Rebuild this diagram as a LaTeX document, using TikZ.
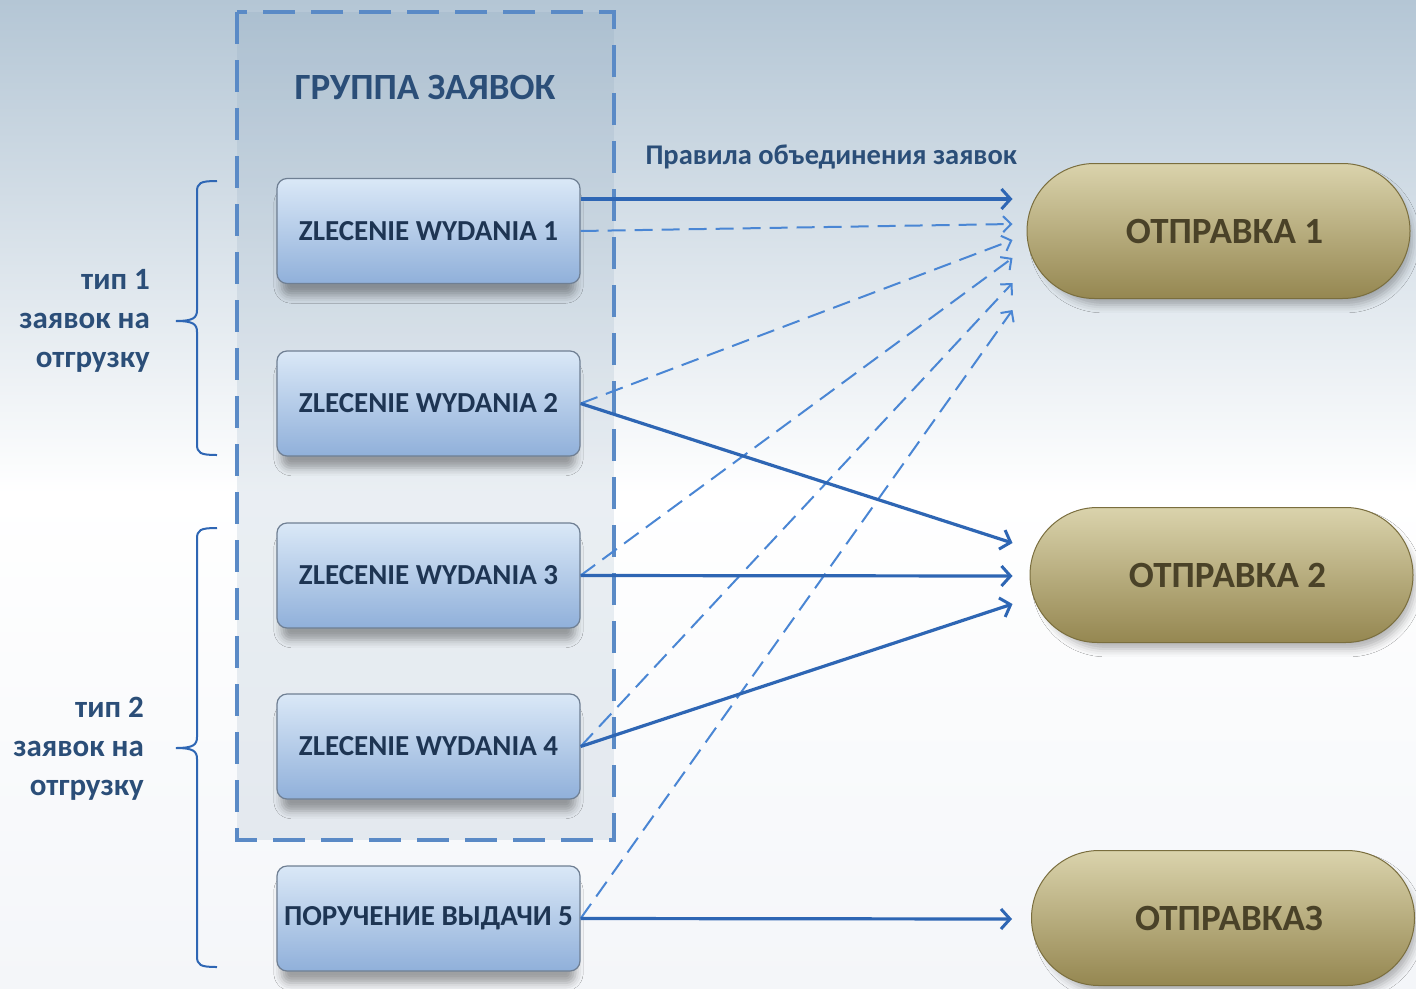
\documentclass[tikz,border=0pt]{standalone}
\usepackage{fontspec}
\setmainfont{Carlito}
\usepackage{tikz}
\usetikzlibrary{arrows.meta}
\usetikzlibrary{positioning}
\usetikzlibrary{calc}
\usetikzlibrary{shapes.misc}
\usetikzlibrary{shadows.blur}

\definecolor{bgtop}{HTML}{B4C6D5}
\definecolor{bgbot}{HTML}{F4F6F9}
\definecolor{groupfill}{HTML}{7E9BB6}
\definecolor{dashblue}{HTML}{5A8AC6}
\definecolor{lineblue}{HTML}{2E66B4}
\definecolor{lightblue}{HTML}{4A86D4}
\definecolor{labelblue}{HTML}{2B4E78}
\definecolor{boxtext}{HTML}{1E3553}
\definecolor{boxtop}{HTML}{DAE8F7}
\definecolor{boxbot}{HTML}{90B0DA}
\definecolor{boxedge}{HTML}{6F7F93}
\definecolor{ovaltop}{HTML}{DAD3AC}
\definecolor{ovalbot}{HTML}{958751}
\definecolor{ovaledge}{HTML}{7A6E3E}
\definecolor{ovaltext}{HTML}{4A4228}

\tikzset{
  zbox/.style={rectangle, rounded corners=10pt, draw=boxedge, line width=1.2pt,
    top color=boxtop, bottom color=boxbot, minimum width=303pt, minimum height=105pt,
    inner sep=0pt, text=boxtext, font=\bfseries\fontsize{29}{33}\selectfont,
    blur shadow={shadow xshift=0pt, shadow yshift=-14pt, shadow scale=0.97,
      shadow opacity=35, shadow blur radius=8pt}},
  oval/.style={rounded rectangle, draw=ovaledge, line width=1pt,
    top color=ovaltop, bottom color=ovalbot, minimum width=383pt, minimum height=135pt,
    inner sep=0pt, text=ovaltext, font=\bfseries\fontsize{37}{42}\selectfont,
    blur shadow={shadow xshift=6pt, shadow yshift=-8pt, shadow scale=0.98,
      shadow opacity=30, shadow blur radius=8pt}},
  typelabel/.style={align=right, anchor=east, text=labelblue, inner sep=0pt,
    font=\bfseries\fontsize{31}{39}\selectfont},
  typebrace/.style={draw=lineblue, line width=2pt},
  solidarrow/.style={draw=lineblue, line width=3.2pt,
    -{Straight Barb[length=9pt, width=20pt, line width=3pt]}},
  dasharrow/.style={draw=lightblue, line width=2pt, dash pattern=on 18pt off 9pt,
    -{Straight Barb[length=8pt, width=16pt, line width=2pt]}}
}

\begin{document}
\begin{tikzpicture}[x=1pt, y=-1pt]
  % background
  \shade[top color=bgtop, bottom color=white] (0,0) rectangle (1416,494);
  \shade[top color=white, bottom color=bgbot] (0,494) rectangle (1416,988);
  \useasboundingbox (0,0) rectangle (1416,988);

  % request group
  \draw[dashblue, line width=4pt, dash pattern=on 32pt off 16pt,
        fill=groupfill, fill opacity=0.16] (237,12) rectangle (614,840);
  \node[text=labelblue, font=\bfseries\fontsize{37}{42}\selectfont] (group) at (425,87) {ГРУППА ЗАЯВОК};

  % requests
  \def\colx{428.5}
  \node[zbox] (z1) at (\colx,231) {ZLECENIE WYDANIA 1};
  \node[zbox] (z2) at (\colx,403.5) {ZLECENIE WYDANIA 2};
  \node[zbox] (z3) at (\colx,575.5) {ZLECENIE WYDANIA 3};
  \node[zbox] (z4) at (\colx,746.5) {ZLECENIE WYDANIA 4};
  \node[zbox] (p5) at (\colx,918.5) {ПОРУЧЕНИЕ ВЫДАЧИ 5};

  % shipments
  \node[oval] (o1) at (1218.5,231) {\hspace*{12pt}ОТПРАВКА 1};
  \node[oval] (o2) at (1221.5,575) {\hspace*{12pt}ОТПРАВКА 2};
  \node[oval] (o3) at (1223,918) {\hspace*{12pt}ОТПРАВКАЗ};

  % rules label
  \node[anchor=west, text=labelblue, font=\bfseries\fontsize{28.5}{32}\selectfont] (rules) at (642,157) {Правила объединения заявок};

  % type braces
  \def\bx{197}
  \def\bend{217}
  \def\btip{176}
  \draw[typebrace] (\bend,181) .. controls (\bx+3,181) and (\bx,183) .. (\bx,192)
    -- (\bx,310) .. controls (\bx,318) and (\bx-4,321) .. (\btip,321)
    .. controls (\bx-4,321) and (\bx,324) .. (\bx,332)
    -- (\bx,444) .. controls (\bx,453) and (\bx+3,455) .. (\bend,455);
  \draw[typebrace] (\bend,528) .. controls (\bx+3,528) and (\bx,530) .. (\bx,539)
    -- (\bx,737) .. controls (\bx,745) and (\bx-4,748) .. (\btip,748)
    .. controls (\bx-4,748) and (\bx,751) .. (\bx,759)
    -- (\bx,956) .. controls (\bx,965) and (\bx+3,967) .. (\bend,967);
  \node[typelabel] (type1) at (150,321) {тип 1\\заявок на\\отгрузку};
  \node[typelabel] (type2) at (144,749) {тип 2\\заявок на\\отгрузку};

  % arrow ends
  \coordinate (e1) at ($(o1.west)+(-14,-32)$);
  \coordinate (d1) at ($(o1.west)+(-14,-7)$);
  \coordinate (d2) at ($(o1.west)+(-14,9)$);
  \coordinate (d3) at ($(o1.west)+(-14,27)$);
  \coordinate (d4) at ($(o1.west)+(-14,52)$);
  \coordinate (d5) at ($(o1.west)+(-14,79)$);
  \coordinate (e2) at ($(o2.west)+(-17,-32)$);
  \coordinate (e3) at ($(o2.west)+(-17,1)$);
  \coordinate (e4) at ($(o2.west)+(-17,29)$);
  \coordinate (e5) at ($(o3.west)+(-19,1)$);

  % merge rules
  \draw[dasharrow] (z1.east) -- (d1);
  \draw[dasharrow] (z2.east) -- (d2);
  \draw[dasharrow] (z3.east) -- (d3);
  \draw[dasharrow] (z4.east) -- (d4);
  \draw[dasharrow] (p5.east) -- (d5);

  \draw[solidarrow] ($(z1.east)+(0,-32)$) -- (e1);
  \draw[solidarrow] (z2.east) -- (e2);
  \draw[solidarrow] (z3.east) -- (e3);
  \draw[solidarrow] (z4.east) -- (e4);
  \draw[solidarrow] (p5.east) -- (e5);
\end{tikzpicture}
\end{document}
